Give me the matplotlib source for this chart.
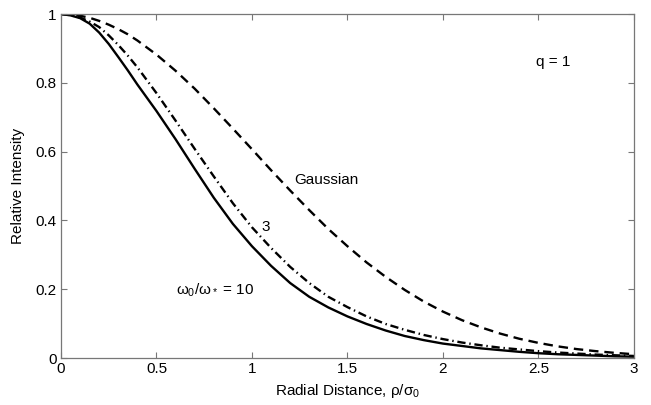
import matplotlib
matplotlib.use("Agg")
import matplotlib.pyplot as plt
from matplotlib.ticker import FuncFormatter

plt.rcParams['font.family'] = ['Liberation Sans', 'DejaVu Sans']
plt.rcParams['mathtext.fontset'] = 'custom'
plt.rcParams['mathtext.rm'] = 'Liberation Sans'
plt.rcParams['mathtext.it'] = 'Liberation Sans'
plt.rcParams['mathtext.bf'] = 'Liberation Sans:bold'

# radial distance samples
rho = [0.0, 0.05, 0.1, 0.15, 0.2, 0.25, 0.3, 0.35, 0.4, 0.5, 0.6, 0.7, 0.8,
       0.9, 1.0, 1.1, 1.2, 1.3, 1.4, 1.5, 1.6, 1.7, 1.8, 1.9, 2.0, 2.1, 2.2,
       2.3, 2.4, 2.5, 2.6, 2.7, 2.8, 2.9, 3.0]

gaussian = [1.0, 0.999, 0.995, 0.989, 0.980, 0.969, 0.956, 0.941, 0.923, 0.882,
            0.835, 0.783, 0.726, 0.667, 0.607, 0.546, 0.487, 0.430, 0.375, 0.325,
            0.278, 0.236, 0.198, 0.164, 0.135, 0.110, 0.089, 0.071, 0.056, 0.044,
            0.034, 0.026, 0.020, 0.015, 0.011]

ratio3 = [1.0, 0.997, 0.990, 0.978, 0.962, 0.938, 0.910, 0.879, 0.845, 0.770,
          0.690, 0.608, 0.528, 0.450, 0.380, 0.320, 0.265, 0.218, 0.178, 0.148,
          0.121, 0.099, 0.082, 0.067, 0.055, 0.045, 0.037, 0.030, 0.025, 0.020,
          0.016, 0.013, 0.010, 0.008, 0.006]

ratio10 = [1.0, 0.996, 0.988, 0.972, 0.946, 0.913, 0.875, 0.836, 0.795, 0.718,
           0.636, 0.550, 0.466, 0.390, 0.325, 0.268, 0.218, 0.178, 0.147, 0.121,
           0.099, 0.080, 0.064, 0.052, 0.042, 0.035, 0.028, 0.023, 0.018, 0.014,
           0.011, 0.009, 0.007, 0.005, 0.004]

xticks = [0, 0.5, 1, 1.5, 2, 2.5, 3]
yticks = [0, 0.2, 0.4, 0.6, 0.8, 1]

fig = plt.figure(figsize=(6.51, 4.05), dpi=100)
ax = fig.add_axes([0.0937, 0.116, 0.880, 0.8494])

ax.plot(rho, gaussian, color='black', lw=1.7, linestyle=(0, (4, 2.5)))
ax.plot(rho, ratio3, color='black', lw=1.7, linestyle=(0, (3.5, 1.6, 0.6, 1.6)))
ax.plot(rho, ratio10, color='black', lw=1.7, linestyle='-')

ax.set_xlim(0, 3)
ax.set_ylim(0, 1)
ax.set_xticks(xticks)
ax.set_yticks(yticks)
ax.xaxis.set_major_formatter(FuncFormatter(lambda v, p: '%g' % v))
ax.yaxis.set_major_formatter(FuncFormatter(lambda v, p: '%g' % v))
ax.tick_params(direction='in', length=4, width=0.8, color='#777777',
               top=True, right=True, labelsize=11, pad=3)
for s in ax.spines.values():
    s.set_color('#777777')
    s.set_linewidth(0.9)

ax.set_xlabel(r'Radial Distance, $\rho/\sigma_0$', fontsize=11, labelpad=4)
ax.set_ylabel('Relative Intensity', fontsize=11, labelpad=8)

ax.text(1.22, 0.517, 'Gaussian', fontsize=11, ha='left', va='center')
ax.text(1.05, 0.38, '3', fontsize=11, ha='left', va='center')
ax.text(0.6, 0.196, r'$\omega_0/\omega_*$ = 10', fontsize=11, ha='left', va='center')
ax.text(2.49, 0.861, 'q = 1', fontsize=11, ha='left', va='center')

fig.savefig('out.png', dpi=100)
